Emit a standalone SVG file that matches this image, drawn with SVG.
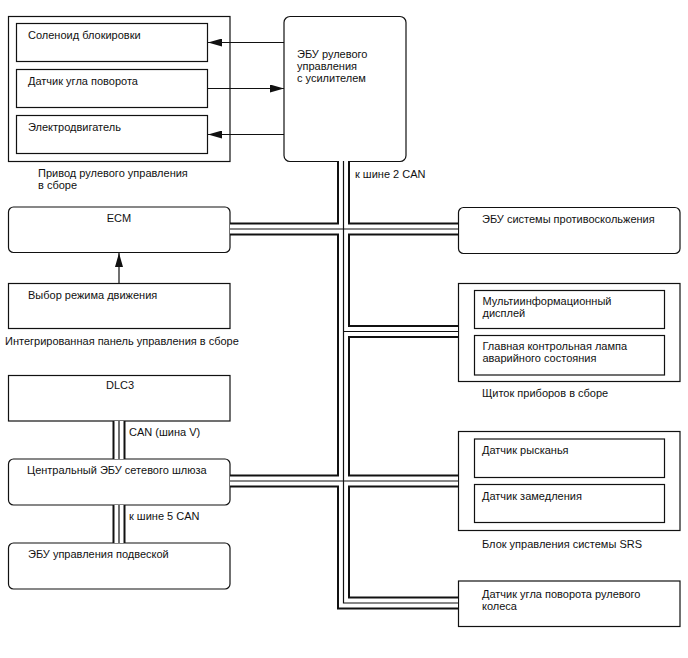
<svg xmlns="http://www.w3.org/2000/svg" width="688" height="658" viewBox="0 0 688 658">
<defs>
<style>
text{font-family:"Liberation Sans",Arial,sans-serif;font-size:11px;fill:#111}
.box{fill:#fff;stroke:#111;stroke-width:1.2}
.ln{fill:none;stroke:#111;stroke-width:1.2}
.busA{fill:none;stroke:#111;stroke-width:13;stroke-linejoin:miter}
.busB{fill:none;stroke:#fff;stroke-width:9;stroke-linejoin:miter}
.busC{fill:none;stroke:#111;stroke-width:1.2;stroke-linejoin:miter}
</style>
<marker id="ah" viewBox="0 0 14 8" refX="14" refY="4" markerWidth="14" markerHeight="8" markerUnits="userSpaceOnUse" orient="auto">
<path d="M0,0 L14,4 L0,8 Z" fill="#111"/>
</marker>
</defs>
<rect width="688" height="658" fill="#fff"/>

<g id="steering-actuator">
<rect class="box" x="8.5" y="16.5" width="221.5" height="145"/>
<text x="38" y="177">Привод рулевого управления</text>
<text x="38" y="189">в сборе</text>
</g>
<g id="lock-solenoid">
<rect class="box" x="16.5" y="23.5" width="191" height="38"/>
<text x="28" y="39">Соленоид блокировки</text>
</g>
<g id="angle-sensor">
<rect class="box" x="16.5" y="69.5" width="191" height="38"/>
<text x="28" y="85">Датчик угла поворота</text>
</g>
<g id="motor">
<rect class="box" x="16.5" y="115.5" width="191" height="38"/>
<text x="28" y="131">Электродвигатель</text>
</g>
<g id="eps-ecu">
<rect class="box" x="284" y="16.5" width="122" height="145" rx="6"/>
<text x="297" y="58">ЭБУ рулевого</text>
<text x="297" y="70">управления</text>
<text x="297" y="82">с усилителем</text>
</g>

<g id="ecm">
<rect class="box" x="8.5" y="207" width="221.5" height="45.5" rx="5"/>
<text x="119" y="221.5" text-anchor="middle">ECM</text>
</g>
<g id="drive-mode">
<rect class="box" x="8.5" y="283.5" width="221.5" height="45"/>
<text x="28" y="298.5">Выбор режима движения</text>
<text x="5" y="345">Интегрированная панель управления в сборе</text>
</g>

<g id="dlc3">
<rect class="box" x="8.5" y="375.5" width="221.5" height="45.5"/>
<text x="120" y="389" text-anchor="middle">DLC3</text>
</g>
<g id="gateway">
<rect class="box" x="8.5" y="459" width="221.5" height="46" rx="5"/>
<text x="27" y="474">Центральный ЭБУ сетевого шлюза</text>
</g>
<g id="suspension-ecu">
<rect class="box" x="8.5" y="543" width="221.5" height="46" rx="5"/>
<text x="28" y="557.5">ЭБУ управления подвеской</text>
</g>

<g id="skid-ecu">
<rect class="box" x="458.5" y="207.5" width="221.5" height="46" rx="5"/>
<text x="482" y="223">ЭБУ системы противоскольжения</text>
</g>

<g id="cluster">
<rect class="box" x="458.5" y="283.5" width="221.5" height="98"/>
<text x="482" y="397">Щиток приборов в сборе</text>
</g>
<g id="multi-display">
<rect class="box" x="474.5" y="290.5" width="190" height="38"/>
<text x="482.5" y="305">Мультиинформационный</text>
<text x="482.5" y="317">дисплей</text>
</g>
<g id="master-warning">
<rect class="box" x="474.5" y="335.5" width="190" height="39.5"/>
<text x="482.5" y="350">Главная контрольная лампа</text>
<text x="482.5" y="362">аварийного состояния</text>
</g>

<g id="srs">
<rect class="box" x="458.5" y="431.5" width="221.5" height="99"/>
<text x="482" y="547.5">Блок управления системы SRS</text>
</g>
<g id="yaw-sensor">
<rect class="box" x="474.5" y="439" width="190" height="38.5"/>
<text x="482" y="453.5">Датчик рысканья</text>
</g>
<g id="decel-sensor">
<rect class="box" x="474.5" y="484.5" width="190" height="38"/>
<text x="482" y="500">Датчик замедления</text>
</g>

<g id="steering-wheel-sensor">
<rect class="box" x="458.5" y="581" width="221.5" height="45.5"/>
<text x="482" y="598">Датчик угла поворота рулевого</text>
<text x="482" y="610">колеса</text>
</g>

<g id="connectors">
<path class="busA" d="M343.5,161 V603 H458 M230,229 H458 M343.5,331.5 H458 M230,481 H458 M119,421 V459 M119,505 V543"/>
<path class="busB" d="M343.5,161 V603 H458 M230,229 H458 M343.5,331.5 H458 M230,481 H458 M119,421 V459 M119,505 V543"/>
<path class="busC" d="M343.5,161 V603 H458 M230,229 H458 M343.5,331.5 H458 M230,481 H458 M119,421 V459 M119,505 V543"/>
<line class="ln" x1="284" y1="42.5" x2="208" y2="42.5" marker-end="url(#ah)"/>
<line class="ln" x1="208" y1="88.5" x2="284" y2="88.5" marker-end="url(#ah)"/>
<line class="ln" x1="284" y1="134.5" x2="208" y2="134.5" marker-end="url(#ah)"/>
<line class="ln" x1="119" y1="283" x2="119" y2="253" marker-end="url(#ah)"/>
<text x="355" y="178">к шине 2 CAN</text>
<text x="129" y="436">CAN (шина V)</text>
<text x="129" y="520">к шине 5 CAN</text>
</g>
</svg>
